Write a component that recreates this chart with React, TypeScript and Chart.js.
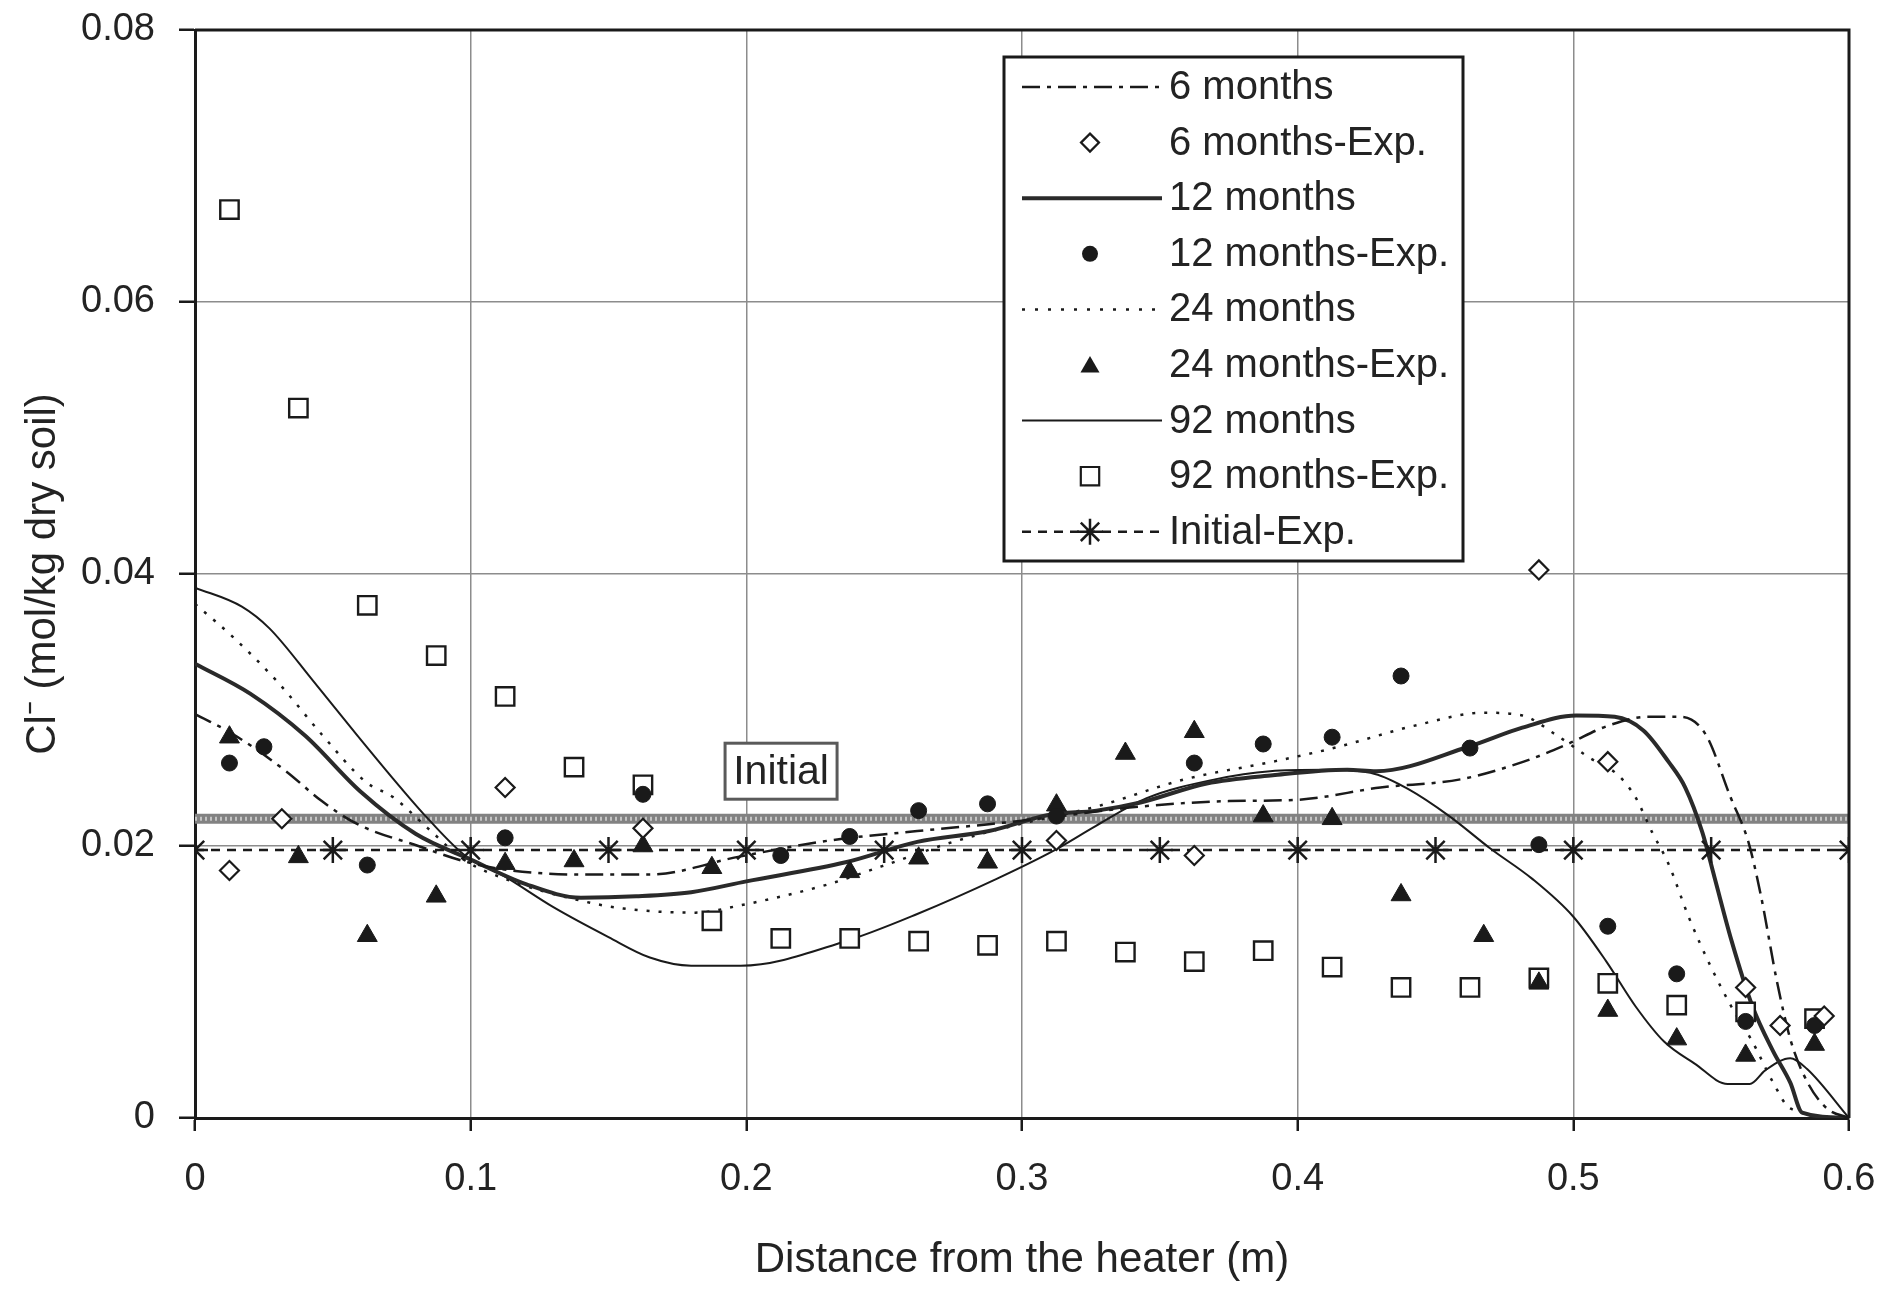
import React, { useEffect, useRef } from 'react';
import { Chart, registerables } from 'chart.js';

Chart.register(...registerables);

// ---------- tick labels ----------
const xTickValues = [0, 0.1, 0.2, 0.3, 0.4, 0.5, 0.6];
const xTickLabels = ['0', '0.1', '0.2', '0.3', '0.4', '0.5', '0.6'];
const yTickValues = [0, 0.02, 0.04, 0.06, 0.08];
const yTickLabels = ['0', '0.02', '0.04', '0.06', '0.08'];

// ---------- model curves ----------
const m6X = [0, 0.014, 0.033, 0.046, 0.059, 0.081, 0.099, 0.115, 0.14, 0.165, 0.197, 0.23, 0.262, 0.288, 0.31, 0.343, 0.375, 0.4, 0.43, 0.459, 0.482, 0.498, 0.512, 0.527, 0.539, 0.548, 0.557, 0.5635, 0.568, 0.574, 0.579, 0.585, 0.592, 0.6];
const m6Y = [0.0297, 0.0282, 0.0255, 0.0233, 0.0216, 0.02, 0.0188, 0.0182, 0.0179, 0.0179, 0.0192, 0.0204, 0.0211, 0.0216, 0.0221, 0.0229, 0.0233, 0.0234, 0.0243, 0.0249, 0.0262, 0.0275, 0.0288, 0.0295, 0.0295, 0.0282, 0.0236, 0.0203, 0.0164, 0.0099, 0.0056, 0.0026, 0.0007, 0];

const m12X = [0, 0.02, 0.04, 0.06, 0.08, 0.1, 0.12, 0.14, 0.16, 0.18, 0.2, 0.236, 0.262, 0.288, 0.31, 0.327, 0.343, 0.367, 0.391, 0.418, 0.4285, 0.462, 0.4815, 0.501, 0.515, 0.5254, 0.5345, 0.5406, 0.5468, 0.5512, 0.5573, 0.565, 0.5725, 0.5787, 0.583, 0.6];
const m12Y = [0.0334, 0.0312, 0.0281, 0.024, 0.0209, 0.019, 0.0172, 0.0162, 0.0163, 0.0166, 0.0174, 0.0188, 0.0203, 0.0211, 0.0223, 0.0226, 0.0232, 0.0246, 0.0252, 0.0256, 0.0255, 0.0273, 0.0287, 0.0296, 0.0295, 0.0285, 0.0262, 0.0243, 0.021, 0.0177, 0.0131, 0.0082, 0.0049, 0.0026, 0.0004, 0];

const m24X = [0, 0.0136, 0.0298, 0.046, 0.062, 0.0718, 0.0845, 0.0975, 0.115, 0.1395, 0.1555, 0.1815, 0.197, 0.23, 0.249, 0.275, 0.299, 0.327, 0.359, 0.391, 0.413, 0.4435, 0.4677, 0.4815, 0.4935, 0.5058, 0.5163, 0.5225, 0.5286, 0.5345, 0.542, 0.5497, 0.5573, 0.565, 0.5725, 0.5787, 0.6];
const m24Y = [0.0378, 0.0354, 0.0321, 0.0282, 0.0247, 0.0236, 0.0213, 0.019, 0.0174, 0.016, 0.0154, 0.0151, 0.0156, 0.0172, 0.0185, 0.0203, 0.0216, 0.0229, 0.0249, 0.0262, 0.0272, 0.0289, 0.0298, 0.0296, 0.0282, 0.0265, 0.0252, 0.0236, 0.021, 0.0187, 0.0147, 0.0112, 0.0082, 0.0056, 0.0026, 0.0007, 0];

const m92X = [0, 0.017, 0.027, 0.043, 0.059, 0.075, 0.085, 0.098, 0.112, 0.13, 0.15, 0.165, 0.18, 0.198, 0.236, 0.262, 0.291, 0.311, 0.327, 0.345, 0.37, 0.39, 0.41, 0.428, 0.44, 0.455, 0.47, 0.485, 0.5, 0.512, 0.5226, 0.533, 0.544, 0.556, 0.564, 0.5696, 0.5787, 0.5848, 0.6];
const m92Y = [0.039, 0.0376, 0.036, 0.0321, 0.0281, 0.0242, 0.0219, 0.0193, 0.0178, 0.0155, 0.0133, 0.0118, 0.0112, 0.0112, 0.013, 0.015, 0.0176, 0.0196, 0.0215, 0.0235, 0.0249, 0.0255, 0.0256, 0.0253, 0.0242, 0.0222, 0.0198, 0.0176, 0.0148, 0.0115, 0.0082, 0.0056, 0.004, 0.0025, 0.0025, 0.0035, 0.0044, 0.0036, 0];

// initial (model) level and initial experimental values
const initX = [0, 0.6];
const initY = [0.022, 0.022];
const initExpX = [0, 0.05, 0.1, 0.15, 0.2, 0.25, 0.3, 0.35, 0.4, 0.45, 0.5, 0.55, 0.6];
const initExpY = [0.0197, 0.0197, 0.0197, 0.0197, 0.0197, 0.0197, 0.0197, 0.0197, 0.0197, 0.0197, 0.0197, 0.0197, 0.0197];

// ---------- experimental points ----------
const e6X = [0.0125, 0.0315, 0.1125, 0.1625, 0.3125, 0.3625, 0.4875, 0.5125, 0.5625, 0.575, 0.591];
const e6Y = [0.0182, 0.022, 0.0243, 0.0213, 0.0204, 0.0193, 0.0403, 0.0262, 0.0096, 0.0068, 0.0075];

const e12X = [0.0125, 0.025, 0.0625, 0.1125, 0.1625, 0.2125, 0.2375, 0.2625, 0.2875, 0.3125, 0.3625, 0.3875, 0.4125, 0.4375, 0.4625, 0.4875, 0.5125, 0.5375, 0.5625, 0.5875];
const e12Y = [0.0261, 0.0273, 0.0186, 0.0206, 0.0238, 0.0193, 0.0207, 0.0226, 0.0231, 0.0222, 0.0261, 0.0275, 0.028, 0.0325, 0.0272, 0.0201, 0.0141, 0.0106, 0.0071, 0.0068];

const e24X = [0.0125, 0.0375, 0.0625, 0.0875, 0.1125, 0.1375, 0.1625, 0.1875, 0.2375, 0.2625, 0.2875, 0.3125, 0.3375, 0.3625, 0.3875, 0.4125, 0.4375, 0.4675, 0.4875, 0.5125, 0.5375, 0.5625, 0.5875];
const e24Y = [0.028, 0.0192, 0.0134, 0.0163, 0.0187, 0.0189, 0.02, 0.0184, 0.0181, 0.0191, 0.0188, 0.023, 0.0268, 0.0284, 0.0222, 0.022, 0.0164, 0.0134, 0.0099, 0.0079, 0.0058, 0.0046, 0.0054];

const e92X = [0.0125, 0.0375, 0.0625, 0.0875, 0.1125, 0.1375, 0.1625, 0.1875, 0.2125, 0.2375, 0.2625, 0.2875, 0.3125, 0.3375, 0.3625, 0.3875, 0.4125, 0.4375, 0.4625, 0.4875, 0.5125, 0.5375, 0.5625, 0.5875];
const e92Y = [0.0668, 0.0522, 0.0377, 0.034, 0.031, 0.0258, 0.0245, 0.0145, 0.0132, 0.0132, 0.013, 0.0127, 0.013, 0.0122, 0.0115, 0.0123, 0.0111, 0.0096, 0.0096, 0.0103, 0.0099, 0.0083, 0.0078, 0.0073];

const legendLabels = ['6 months', '6 months-Exp.', '12 months', '12 months-Exp.', '24 months', '24 months-Exp.', '92 months', '92 months-Exp.', 'Initial-Exp.'];
const annotationText = 'Initial';

const FONT = "'Liberation Sans', Arial, Helvetica, sans-serif";
const INK = '#1a1a1a';
const TEXT = '#232323';

const pts = (xs: number[], ys: number[]) => xs.map((x, i) => ({ x, y: ys[i] }));

function drawMarker(ctx: CanvasRenderingContext2D, style: string, x: number, y: number, r: number) {
  ctx.save();
  ctx.setLineDash([]);
  ctx.lineWidth = 2.2;
  ctx.strokeStyle = INK;
  ctx.fillStyle = INK;
  ctx.beginPath();
  if (style === 'rectRot') {
    ctx.moveTo(x, y - r); ctx.lineTo(x + r, y); ctx.lineTo(x, y + r); ctx.lineTo(x - r, y); ctx.closePath();
    ctx.fillStyle = '#fff'; ctx.fill(); ctx.stroke();
  } else if (style === 'circle') {
    ctx.arc(x, y, r, 0, Math.PI * 2); ctx.fill();
  } else if (style === 'triangle') {
    ctx.moveTo(x, y - r); ctx.lineTo(x + r * 0.866, y + r * 0.5); ctx.lineTo(x - r * 0.866, y + r * 0.5); ctx.closePath(); ctx.fill();
  } else if (style === 'rect') {
    const s = r * Math.SQRT1_2;
    ctx.rect(x - s, y - s, 2 * s, 2 * s); ctx.fillStyle = '#fff'; ctx.fill(); ctx.stroke();
  } else if (style === 'star') {
    ctx.lineWidth = 2.5;
    ctx.moveTo(x - r, y); ctx.lineTo(x + r, y);
    ctx.moveTo(x, y - r); ctx.lineTo(x, y + r);
    const d = r * Math.SQRT1_2;
    ctx.moveTo(x - d, y - d); ctx.lineTo(x + d, y + d);
    ctx.moveTo(x - d, y + d); ctx.lineTo(x + d, y - d);
    ctx.stroke();
  }
  ctx.restore();
}

const overlayPlugin = {
  id: 'overlay',
  afterDraw(chart: any) {
    const { ctx, chartArea: a, scales } = chart;
    ctx.save();
    // plot frame (top and right)
    ctx.strokeStyle = INK;
    ctx.lineWidth = 3;
    ctx.setLineDash([]);
    ctx.beginPath();
    ctx.moveTo(a.left, a.top);
    ctx.lineTo(a.right, a.top);
    ctx.lineTo(a.right, a.bottom);
    ctx.stroke();

    // "Initial" annotation box
    const cx = scales.x.getPixelForValue(0.2126);
    const cy = scales.y.getPixelForValue(0.0255);
    const w = 112;
    const h = 56;
    ctx.fillStyle = '#fff';
    ctx.fillRect(cx - w / 2, cy - h / 2, w, h);
    ctx.strokeStyle = '#5a5a5a';
    ctx.lineWidth = 3;
    ctx.strokeRect(cx - w / 2, cy - h / 2, w, h);
    ctx.fillStyle = TEXT;
    ctx.font = `41px ${FONT}`;
    ctx.textAlign = 'center';
    ctx.textBaseline = 'middle';
    ctx.fillText(annotationText, cx, cy + 1);

    // legend
    const bx = a.left + 809;
    const by = a.top + 27;
    const bw = 459;
    const bh = 504;
    ctx.fillStyle = '#fff';
    ctx.fillRect(bx, by, bw, bh);
    ctx.strokeStyle = INK;
    ctx.lineWidth = 3;
    ctx.strokeRect(bx, by, bw, bh);
    const x1 = bx + 18;
    const x2 = bx + 158;
    const mx = bx + 86;
    const tx = bx + 165;
    ctx.font = `40px ${FONT}`;
    ctx.textAlign = 'left';
    ctx.textBaseline = 'middle';
    legendLabels.forEach((lab, i) => {
      const y = by + 30 + i * 55.6;
      ctx.save();
      ctx.strokeStyle = INK;
      ctx.beginPath();
      if (i === 0) { ctx.lineWidth = 2.5; ctx.setLineDash([18, 7, 4, 7]); ctx.moveTo(x1, y); ctx.lineTo(x2, y); ctx.stroke(); }
      if (i === 2) { ctx.lineWidth = 4; ctx.strokeStyle = '#2a2a2a'; ctx.moveTo(x1, y); ctx.lineTo(x2, y); ctx.stroke(); }
      if (i === 4) { ctx.lineWidth = 2.5; ctx.setLineDash([3, 10]); ctx.moveTo(x1, y); ctx.lineTo(x2, y); ctx.stroke(); }
      if (i === 6) { ctx.lineWidth = 2; ctx.moveTo(x1, y); ctx.lineTo(x2, y); ctx.stroke(); }
      if (i === 8) { ctx.lineWidth = 2.5; ctx.setLineDash([9, 7]); ctx.moveTo(x1, y); ctx.lineTo(x2, y); ctx.stroke(); }
      ctx.restore();
      if (i === 1) drawMarker(ctx, 'rectRot', mx, y, 9);
      if (i === 3) drawMarker(ctx, 'circle', mx, y, 8);
      if (i === 5) drawMarker(ctx, 'triangle', mx, y + 2, 11);
      if (i === 7) drawMarker(ctx, 'rect', mx, y, 13);
      if (i === 8) drawMarker(ctx, 'star', mx, y, 13);
      ctx.fillStyle = TEXT;
      ctx.fillText(lab, tx, y + 1);
    });
    ctx.restore();
  },
};

export default function App() {
  const ref = useRef<HTMLCanvasElement | null>(null);

  useEffect(() => {
    if (!ref.current) return;
    const lineBase = { showLine: true, pointRadius: 0, borderColor: INK, cubicInterpolationMode: 'monotone' as const, fill: false };
    const chart = new Chart(ref.current, {
      type: 'scatter',
      data: {
        datasets: [
          { label: '6 months-Exp.', data: pts(e6X, e6Y), pointStyle: 'rectRot', pointRadius: 9.5, pointBackgroundColor: '#fff', pointBorderColor: INK, pointBorderWidth: 2.2, showLine: false },
          { label: '12 months-Exp.', data: pts(e12X, e12Y), pointStyle: 'circle', pointRadius: 8, pointBackgroundColor: INK, pointBorderColor: INK, pointBorderWidth: 1, showLine: false },
          { label: '24 months-Exp.', data: pts(e24X, e24Y), pointStyle: 'triangle', pointRadius: 11.5, pointBackgroundColor: INK, pointBorderColor: INK, pointBorderWidth: 1, showLine: false },
          { label: '92 months-Exp.', data: pts(e92X, e92Y), pointStyle: 'rect', pointRadius: 13, pointBackgroundColor: '#fff', pointBorderColor: INK, pointBorderWidth: 2.4, showLine: false },
          { label: 'Initial-Exp.', data: pts(initExpX, initExpY), showLine: true, borderColor: INK, borderWidth: 2.5, borderDash: [9, 7], pointStyle: 'star', pointRadius: 13, pointBorderColor: INK, pointBorderWidth: 2.5 },
          { label: '6 months', data: pts(m6X, m6Y), ...lineBase, borderWidth: 2.5, borderDash: [18, 7, 4, 7] },
          { label: '12 months', data: pts(m12X, m12Y), ...lineBase, borderColor: '#2a2a2a', borderWidth: 4 },
          { label: '24 months', data: pts(m24X, m24Y), ...lineBase, borderWidth: 2.5, borderDash: [3, 9] },
          { label: '92 months', data: pts(m92X, m92Y), ...lineBase, borderWidth: 2 },
          { label: 'Initial-pattern', data: pts(initX, initY), showLine: true, pointRadius: 0, borderColor: '#c4c4c4', borderWidth: 4, borderDash: [2, 3] },
          { label: 'Initial', data: pts(initX, initY), showLine: true, pointRadius: 0, borderColor: '#828282', borderWidth: 10 },
        ] as any,
      },
      options: {
        animation: false,
        responsive: false,
        maintainAspectRatio: false,
        devicePixelRatio: 1,
        events: [],
        layout: { padding: { top: 30, right: 53, left: 0, bottom: 0 } },
        plugins: { legend: { display: false }, tooltip: { enabled: false } },
        scales: {
          x: {
            type: 'linear',
            position: 'bottom',
            min: 0,
            max: 0.6,
            afterBuildTicks: (s: any) => { s.ticks = xTickValues.map((v) => ({ value: v })); },
            afterFit: (s: any) => { s.height = 173; s.paddingLeft = 0; s.paddingRight = 0; },
            grid: { color: '#8c8c8c', lineWidth: 1.5, tickLength: 13, tickColor: INK, tickWidth: 2.5 },
            border: { color: INK, width: 3 },
            ticks: { padding: 26, color: TEXT, font: { family: FONT, size: 38 }, maxRotation: 0, callback: (_v: any, i: number) => xTickLabels[i] },
            title: { display: true, text: 'Distance from the heater (m)', color: TEXT, font: { family: FONT, size: 42 }, padding: { top: 0, bottom: 5 } },
          },
          y: {
            type: 'linear',
            min: 0,
            max: 0.08,
            afterBuildTicks: (s: any) => { s.ticks = yTickValues.map((v) => ({ value: v })); },
            afterFit: (s: any) => { s.width = 195; s.paddingTop = 0; s.paddingBottom = 0; },
            grid: { color: '#8c8c8c', lineWidth: 1.5, tickLength: 16, tickColor: INK, tickWidth: 2.5 },
            border: { color: INK, width: 3 },
            ticks: { padding: 24, color: TEXT, font: { family: FONT, size: 38 }, callback: (_v: any, i: number) => yTickLabels[i] },
            title: { display: true, text: 'Cl\u207B (mol/kg dry soil)', color: TEXT, font: { family: FONT, size: 42 }, padding: { top: 18, bottom: 0 } },
          },
        },
      } as any,
      plugins: [overlayPlugin],
    });
    return () => chart.destroy();
  }, []);

  return (
    <div style={{ position: 'absolute', left: 0, top: 0, width: 1902, height: 1291, background: '#fff' }}>
      <canvas ref={ref} width={1902} height={1291} style={{ display: 'block', width: 1902, height: 1291 }} />
    </div>
  );
}
